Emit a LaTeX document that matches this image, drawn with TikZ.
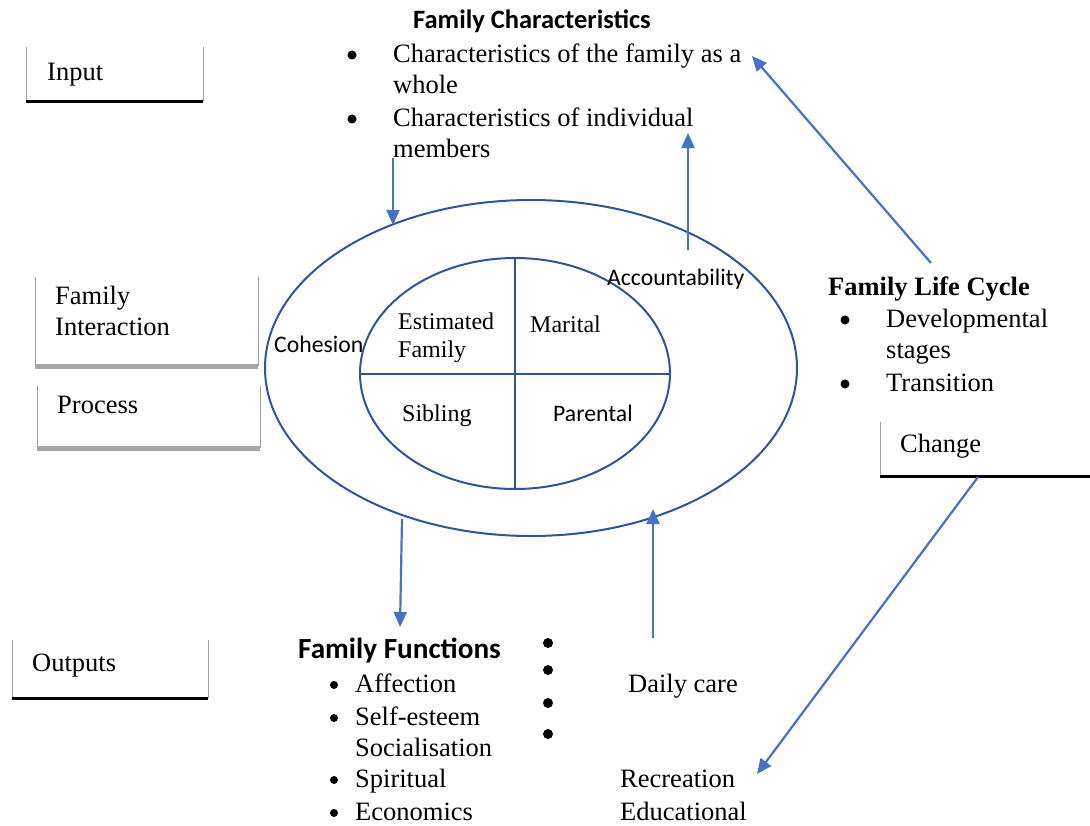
\documentclass[tikz,border=0pt]{standalone}
\usepackage{fontspec}
\setmainfont{Liberation Serif}
\newfontfamily\calfont{Carlito}
\usetikzlibrary{shapes.geometric,arrows.meta}
\definecolor{ringblue}{HTML}{2F5597}
\definecolor{arrowblue}{HTML}{4472C4}
\definecolor{boxgray}{HTML}{A6A6A6}
\definecolor{sidegray}{HTML}{A0A0A0}
\begin{document}
\begin{tikzpicture}[x=1pt,y=-1pt,
  txt/.style={anchor=base west,inner sep=0pt,font=\fontsize{26.5}{31}\selectfont},
  smalltxt/.style={anchor=base west,inner sep=0pt,font=\fontsize{24}{28}\selectfont},
  caltxt/.style={anchor=base west,inner sep=0pt,font=\calfont\fontsize{23.7}{28}\selectfont},
  calhead/.style={anchor=base west,inner sep=0pt,font=\calfont\bfseries\fontsize{26.5}{31}\selectfont},
  bul/.style={circle,fill=black,inner sep=0pt,minimum size=9pt},
  frame/.style={inner sep=0pt,anchor=north west},
  ring/.style={ellipse,draw=ringblue,line width=2pt,inner sep=0pt},
  conn/.style={draw=arrowblue,line width=2.2pt,-{Triangle[length=15pt,width=13pt]}},
  side/.style={draw=sidegray,line width=0.9pt},
  blackbase/.style={draw=black,line width=3.5pt},
  graybase/.style={draw=boxgray,line width=4.5pt}
]
\useasboundingbox (0,0) rectangle (1090,825);

% ---- boxes ----
\node[frame,minimum width=177,minimum height=54] (inbox) at (26,47) {};
\draw[side] (inbox.north west) -- (inbox.south west);
\draw[side] (inbox.north east) -- (inbox.south east);
\draw[blackbase] (inbox.south west) -- (inbox.south east);
\node[txt] (intext) at (47,80) {Input};

\node[frame,minimum width=223,minimum height=89] (fibox) at (35,277) {};
\draw[side] (fibox.north west) -- (fibox.south west);
\draw[side] (fibox.north east) -- (fibox.south east);
\draw[graybase] (fibox.south west) -- (fibox.south east);
\node[txt] (fitext1) at (55,304) {Family};
\node[txt] (fitext2) at (55,335) {Interaction};

\node[frame,minimum width=223,minimum height=62] (prbox) at (37,386) {};
\draw[side] (prbox.north west) -- (prbox.south west);
\draw[side] (prbox.north east) -- (prbox.south east);
\draw[graybase] (prbox.south west) -- (prbox.south east);
\node[txt] (prtext) at (57,413) {Process};

\node[frame,minimum width=212,minimum height=54] (chbox) at (880,422) {};
\draw[side] (chbox.north west) -- (chbox.south west);
\draw[blackbase] (chbox.south west) -- (chbox.south east);
\node[txt] (chtext) at (900,452) {Change};

\node[frame,minimum width=196,minimum height=58] (outbox) at (12,640) {};
\draw[side] (outbox.north west) -- (outbox.south west);
\draw[side] (outbox.north east) -- (outbox.south east);
\draw[blackbase] (outbox.south west) -- (outbox.south east);
\node[txt] (outtext) at (32,671) {Outputs};

% ---- ellipses ----
\node[ring,minimum width=532,minimum height=336] (outer) at (531,368) {};
\node[ring,minimum width=310,minimum height=231] (inner) at (515,373.5) {};
\draw[ringblue,line width=2pt] (inner.north) -- (inner.south);
\draw[ringblue,line width=2pt] (inner.west) -- (inner.east);

\node[smalltxt] (est1) at (398,329) {Estimated};
\node[smalltxt] (est2) at (398,357) {Family};
\node[smalltxt] (mar) at (530,332) {Marital};
\node[smalltxt] (sib) at (402,421) {Sibling};
\node[caltxt] (par) at (553,421) {Parental};
\node[caltxt] (coh) at (274,352) {Cohesion};
\node[caltxt] (acc) at (607,285) {Accountability};

% ---- family characteristics ----
\node[calhead] (fchead) at (413,28) {Family Characteristics};
\node[bul] (fcb1) at (352,55) {};
\node[txt] (fc1) at (393,62) {Characteristics of the family as a};
\node[txt] (fc1b) at (393,93) {whole};
\node[bul] (fcb2) at (352,119) {};
\node[txt] (fc2) at (393,126) {Characteristics of individual};
\node[txt] (fc2b) at (393,157) {members};

% ---- family life cycle ----
\node[txt,font=\bfseries\fontsize{26.5}{31}\selectfont] (flchead) at (828,295) {Family Life Cycle};
\node[bul] (flb1) at (845,320) {};
\node[txt] (fl1) at (886,327) {Developmental};
\node[txt] (fl1b) at (886,358) {stages};
\node[bul] (flb2) at (845,384) {};
\node[txt] (fl2) at (886,391) {Transition};

% ---- family functions ----
\node[calhead,font=\calfont\bfseries\fontsize{29.2}{34}\selectfont] (ffhead) at (298,658) {Family Functions};
\node[bul,minimum size=8pt] (ffb1) at (334,685) {};
\node[txt] (ff1) at (355,692) {Affection};
\node[bul,minimum size=8pt] (ffb2) at (334,718) {};
\node[txt] (ff2) at (355,725) {Self-esteem};
\node[txt] (ff2b) at (355,756) {Socialisation};
\node[bul,minimum size=8pt] (ffb3) at (334,780) {};
\node[txt] (ff3) at (355,787) {Spiritual};
\node[bul,minimum size=8pt] (ffb4) at (334,813) {};
\node[txt] (ff4) at (355,820) {Economics};

\node[bul,minimum size=10pt] (dot1) at (548,643) {};
\node[bul,minimum size=10pt] (dot2) at (548,670) {};
\node[bul,minimum size=10pt] (dot3) at (548,703) {};
\node[bul,minimum size=10pt] (dot4) at (548,734) {};

\node[txt] (daily) at (628,692) {Daily care};
\node[txt] (recr) at (620,787) {Recreation};
\node[txt] (educ) at (620,820) {Educational};

% ---- connectors ----
\coordinate (a1s) at (393,158);
\coordinate (a1e) at (393,225);
\coordinate (a2s) at (688,250);
\coordinate (a2e) at (688,133);
\coordinate (a3s) at (931,263);
\coordinate (a3e) at (752,56);
\coordinate (a4s) at (402,519);
\coordinate (a4e) at (400,627);
\coordinate (a5s) at (653,638);
\coordinate (a5e) at (653,509);
\coordinate (a6s) at (978,477);
\coordinate (a6e) at (757,774);
\draw[conn] (a1s) -- (a1e);
\draw[conn] (a2s) -- (a2e);
\draw[conn] (a3s) -- (a3e);
\draw[conn] (a4s) -- (a4e);
\draw[conn] (a5s) -- (a5e);
\draw[conn] (a6s) -- (a6e);
\end{tikzpicture}
\end{document}
